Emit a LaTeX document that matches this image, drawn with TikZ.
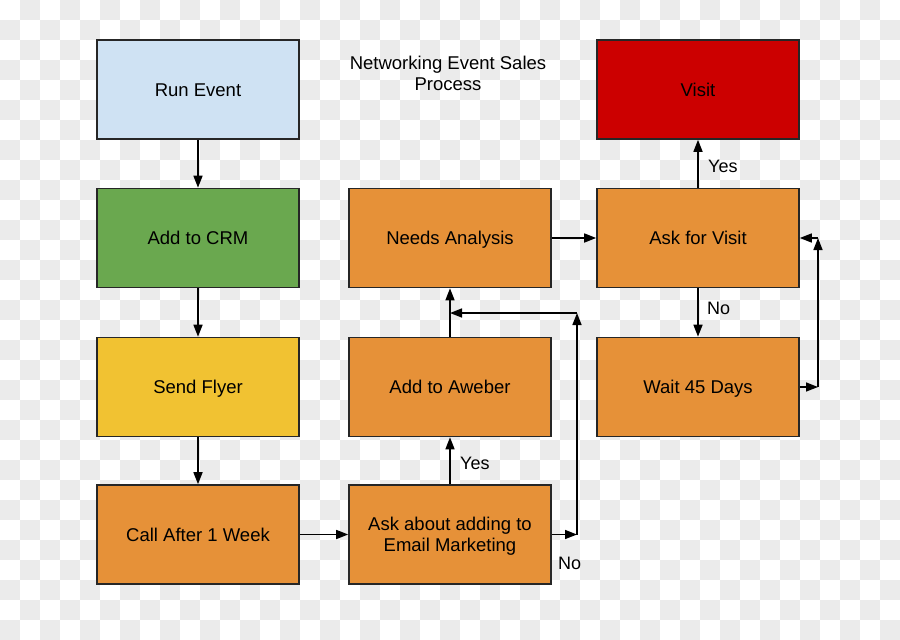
\documentclass[tikz,border=0pt]{standalone}
\usepackage{fontspec}
\setmainfont{Liberation Sans}
\usetikzlibrary{arrows.meta}
\definecolor{checker}{HTML}{EBEBEB}
\definecolor{lblue}{HTML}{CFE2F3}
\definecolor{lgreen}{HTML}{6AA84F}
\definecolor{lyellow}{HTML}{F1C232}
\definecolor{lorange}{HTML}{E69138}
\definecolor{lred}{HTML}{CC0000}
\tikzset{
  boxbase/.style={draw=black!85, line width=1.6pt, minimum width=202pt, minimum height=99pt,
    inner sep=2pt, font=\fontsize{18.5}{21.5}\selectfont},
  box/.style={boxbase, text height=13.3pt, text depth=0pt},
  mbox/.style={boxbase},
  conn/.style={line width=1.5pt, -{Triangle[length=12pt,width=9pt]}},
  lbl/.style={anchor=west, inner sep=0pt, font=\fontsize{18}{21}\selectfont}
}
\begin{document}
\begin{tikzpicture}[x=1pt,y=-1pt]
\useasboundingbox (0,0) rectangle (900,640);
\begin{scope}
\clip (0,0) rectangle (900,640);
\fill[white] (0,0) rectangle (900,640);
\foreach \j in {0,...,31}{
  \foreach \k in {0,...,22}{
    \pgfmathtruncatemacro\ii{2*\k+1-mod(\j,2)}
    \fill[checker] (\ii*20,\j*20) rectangle ++(20,20);
  }
}
\end{scope}

\node[box, fill=lblue]   (run)   at (198,89.5) {Run Event};
\node[box, fill=lgreen]  (crm)   at (198,238)  {Add to CRM};
\node[box, fill=lyellow] (flyer) at (198,387)  {Send Flyer};
\node[box, fill=lorange] (call)  at (198,534.5){Call After 1 Week};
\node[box, fill=lorange] (needs) at (450,238)  {Needs Analysis};
\node[box, fill=lorange] (aweber)at (450,387)  {Add to Aweber};
\node[mbox, fill=lorange] (askem) at (450,534.5){\raisebox{-1.8pt}[\height][\depth]{\parbox{190pt}{\centering Ask about adding to\\Email Marketing}}};
\node[box, fill=lred]    (visit) at (698,89.5) {Visit};
\node[box, fill=lorange] (askv)  at (698,238)  {Ask for Visit};
\node[box, fill=lorange] (wait)  at (698,387)  {Wait 45 Days};

\node[align=center, inner sep=0pt, font=\fontsize{18.5}{21}\selectfont] (title) at (448,73)
  {Networking Event Sales\\Process};

\draw[conn] (run) -- (crm);
\draw[conn] (crm) -- (flyer);
\draw[conn] (flyer) -- (call);
\draw[conn] (call) -- (askem);
\draw[conn] (askem) -- (aweber);
\draw[conn] (aweber) -- (needs);
\draw[conn] (needs) -- (askv);
\draw[conn] (askv) -- (visit);
\draw[conn] (askv) -- (wait);

\coordinate (n1) at (577,534.5);
\coordinate (n2) at (577,313);
\coordinate (n3) at (450,313);
\draw[conn] (askem.east) -- (n1);
\draw[conn] (n1) -- (n2);
\draw[conn] (n2) -- (n3);

\coordinate (w1) at (818,387);
\coordinate (w2) at (818,238);
\draw[conn] (wait.east) -- (w1);
\draw[conn] (w1) -- (w2);
\draw[conn] (w2) -- (askv.east);

\node[lbl] (yes1) at (708,166) {Yes};
\node[lbl] (no1)  at (707,308) {No};
\node[lbl] (yes2) at (460,463) {Yes};
\node[lbl] (no2)  at (558,563) {No};
\end{tikzpicture}
\end{document}
